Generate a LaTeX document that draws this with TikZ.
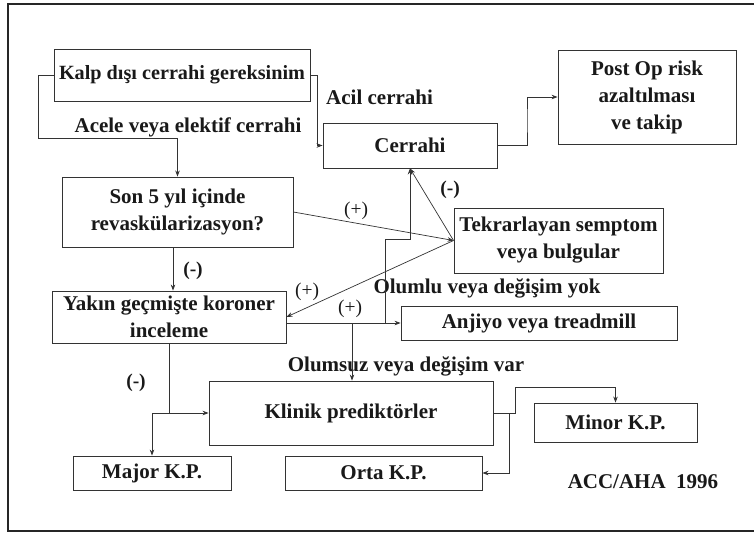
\documentclass[tikz,border=0pt]{standalone}
\usepackage{fontspec}
\setmainfont{Liberation Serif}
\usetikzlibrary{arrows.meta,calc}
\begin{document}
\begin{tikzpicture}[x=1pt,y=-1pt,
  box/.style={draw=black!80, line width=0.9pt, align=center, inner sep=0pt,
    font=\fontsize{21}{27}\selectfont\bfseries, text=black!90},
  lbl/.style={font=\fontsize{21}{25}\selectfont\bfseries, text=black!90, inner sep=0pt},
  sgn/.style={font=\fontsize{19.5}{22}\selectfont, text=black!90, inner sep=0pt},
  sgnb/.style={font=\fontsize{19.5}{22}\selectfont\bfseries, text=black!90, inner sep=0pt},
  arr/.style={draw=black!80, line width=0.7pt, -{Stealth[length=6pt,width=4.5pt]}},
  ln/.style={draw=black!80, line width=0.7pt}]
\useasboundingbox (0,0) rectangle (754,536);
\fill[white] (0,0) rectangle (754,536);
\draw[line width=1.6pt, black!85] (754,4) -- (8,4) -- (8,531) -- (754,531);

% boxes
\node[box, minimum width=256pt, minimum height=52pt, font=\fontsize{20.2}{27}\selectfont\bfseries] (kalp) at (182,75) {Kalp dışı cerrahi gereksinim};
\node[box, minimum width=231pt, minimum height=70pt] (son) at (177.5,212) {Son 5 yıl içinde\\revaskülarizasyon?};
\node[box, minimum width=174pt, minimum height=45pt] (cerrahi) at (410,145.5) {Cerrahi};
\node[box, minimum width=178pt, minimum height=94pt] (postop) at (647,97) {Post Op risk\\azaltılması\\ve takip};
\node[box, minimum width=209pt, minimum height=65pt] (tekrar) at (558.5,240.5) {Tekrarlayan semptom\\veya bulgular};
\node[box, minimum width=234pt, minimum height=52pt] (yakin) at (169,317) {Yakın geçmişte koroner\\inceleme};
\node[box, minimum width=276pt, minimum height=34pt] (anjiyo) at (539,323) {Anjiyo veya treadmill};
\node[box, minimum width=284pt, minimum height=64pt] (klinik) at (351,413) {Klinik prediktörler};
\node[box, minimum width=158pt, minimum height=34pt] (major) at (152,473) {Major K.P.};
\node[box, minimum width=197pt, minimum height=34pt] (orta) at (383.5,473) {Orta K.P.};
\node[box, minimum width=163pt, minimum height=39pt] (minor) at (615.5,422.5) {Minor K.P.};

% labels
\node[lbl, anchor=west] (acil) at (326,97) {Acil cerrahi};
\node[lbl] (acele) at (188,127) {Acele veya elektif cerrahi};
\node[lbl] (olumlu) at (487,288) {Olumlu veya değişim yok};
\node[lbl] (olumsuz) at (406,366) {Olumsuz veya değişim var};
\node[lbl] (acc) at (643,482) {ACC/AHA~~1996};
\node[sgnb] (s1) at (450,190) {(-)};
\node[sgn] (s2) at (356,211) {(+)};
\node[sgnb] (s3) at (193,271) {(-)};
\node[sgn] (s4) at (307,292) {(+)};
\node[sgn] (s5) at (350,309) {(+)};
\node[sgnb] (s6) at (136,383) {(-)};

% helper coordinates
\coordinate (c1) at (38,138);
\coordinate (c2) at (317,0);
\coordinate (c3) at (527,120);
\coordinate (c4) at (173,0);
\coordinate (b1) at (385,323);
\coordinate (b2) at (410,239);
\coordinate (b3) at (352,323);
\coordinate (m1) at (515,387);
\coordinate (m2) at (509,413);

% connectors
\draw[arr] (kalp.west) -| (c1) -| (son.north);
\draw[arr] (kalp.east) -- (kalp.east -| c2) |- (cerrahi.west);
\draw[arr] (cerrahi.east) -| (c3) |- (postop.west);
\draw[arr] (son.east) -- (tekrar.west);
\draw[arr] (tekrar.west) -- (cerrahi.south);
\draw[arr] (tekrar.west) -- (yakin.east);
\draw[arr] (yakin.east |- anjiyo.west) -- (anjiyo.west);
\draw[arr] (b1) |- (b2) -- (cerrahi.south);
\draw[arr] (b3) -- (b3 |- klinik.north);
\draw[arr] (son.south -| c4) -- (yakin.north -| c4);
\draw[arr] (yakin.south) |- (klinik.west);
\draw[arr] (yakin.south |- klinik.west) -| (major.north);
\draw[arr] (klinik.east) -| (m1) -| (minor.north);
\draw[arr] (m2) |- (orta.east);
\end{tikzpicture}
\end{document}
